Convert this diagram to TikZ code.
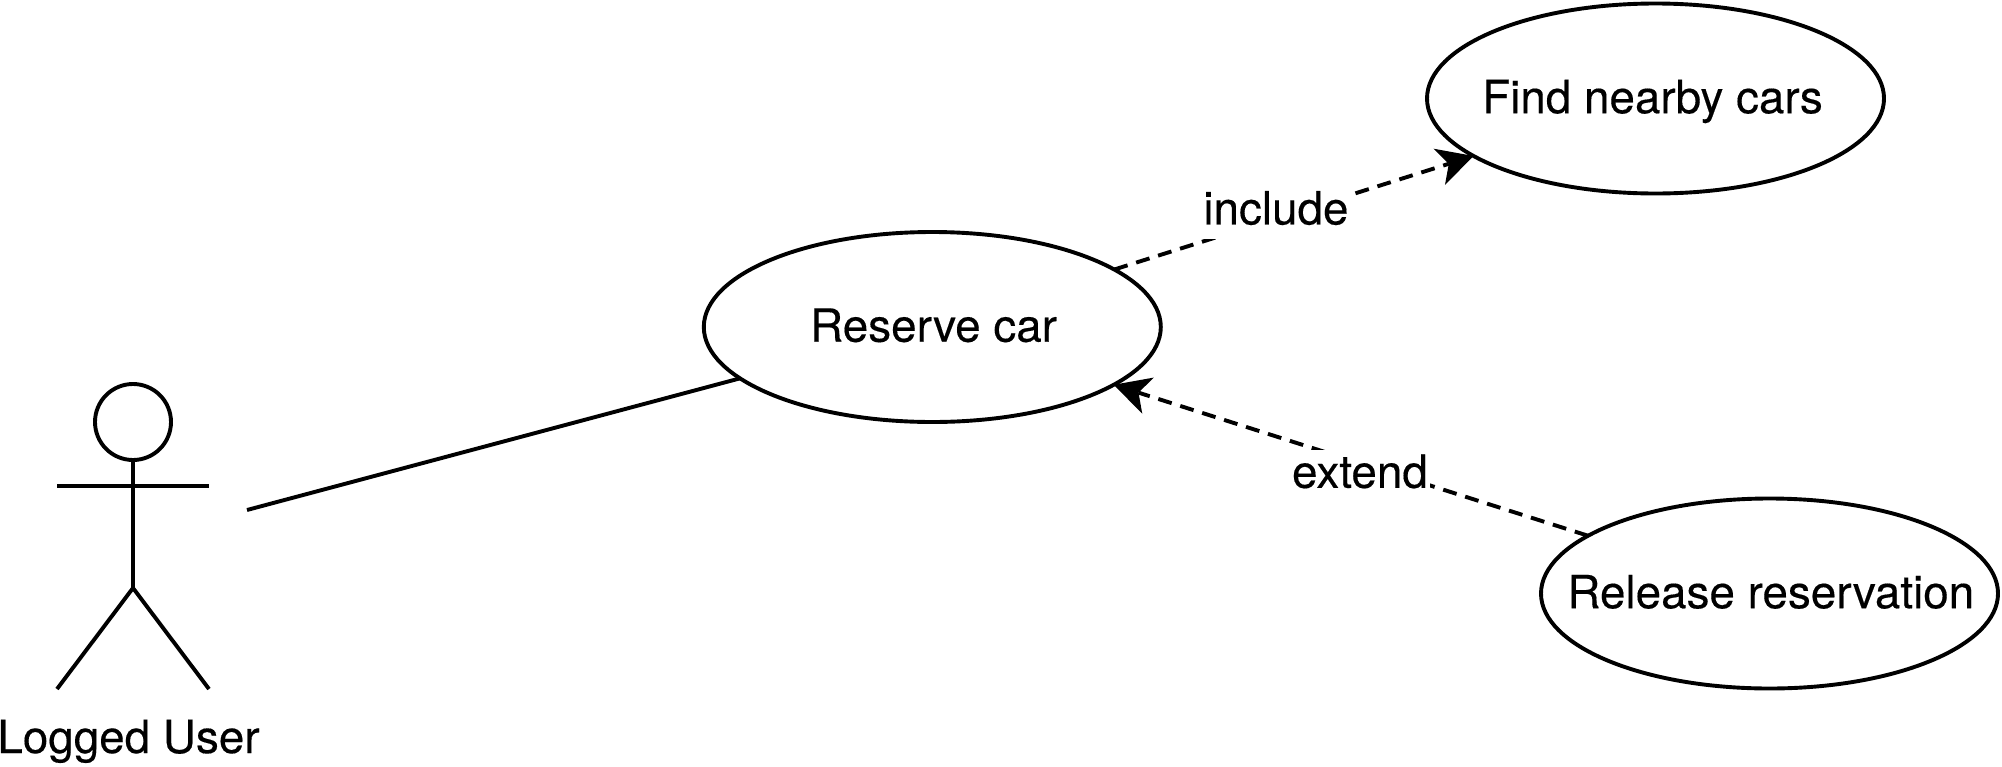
\documentclass[tikz,border=0pt]{standalone}
\usepackage{fontspec}
\setmainfont[FakeBold=0.3,AutoFakeBold=false]{TeX Gyre Heros}
\usetikzlibrary{shapes.geometric,arrows.meta}
\newcommand{\uctext}[2][0]{\makebox[0pt]{\kern#1pt\raisebox{-14.7pt}[0pt][0pt]{#2}}}
\tikzset{
  x=1pt,y=-1pt,
  usecase/.style={ellipse,draw=black,line width=3.9pt,fill=white,inner sep=0pt,outer sep=0pt,minimum width=457pt,minimum height=190pt},
  stick/.style={draw=black,line width=3.9pt},
  txt/.style={font=\fontsize{45.8}{52}\selectfont,text=black},
  flow/.style={draw=black,line width=3.9pt,dash pattern=on 14pt off 9pt,-{Stealth[length=36pt,width=38pt,inset=10pt,line width=0pt]}},
  edgelabel/.style={txt,fill=white,inner xsep=2pt,inner ysep=0pt,text height=38pt,text depth=15pt,anchor=base}
}
\begin{document}
\begin{tikzpicture}
\useasboundingbox (0,0) rectangle (2002,766);
\node[usecase,txt] (reserve) at (932.3,327) {\uctext[2.5]{Reserve car}};
\node[usecase,txt] (find) at (1655.5,98.5) {\uctext[-6]{Find nearby cars}};
\node[usecase,txt] (release) at (1769.5,593.5) {\uctext[2.5]{Release reservation}};
\node[circle,stick,fill=white,inner sep=0pt,outer sep=0pt,minimum size=76pt] (head) at (133,422) {};
\coordinate (armL) at (57,486);
\coordinate (armR) at (209,486);
\coordinate (hip) at (133,588);
\coordinate (footL) at (57,689);
\coordinate (footR) at (209,689);
\coordinate (actorEnd) at (247,510);
\draw[stick] (head) -- (hip);
\draw[stick] (armL) -- (armR);
\draw[stick] (footL) -- (hip) -- (footR);
\node[txt,anchor=base] (actorName) at (128.5,753) {Logged User};
\draw[stick] (actorEnd) -- (reserve);
\draw[flow] (reserve) -- node[edgelabel,pos=0.45,yshift=-6pt] (inc) {include} (find);
\draw[flow] (release) -- node[edgelabel,pos=0.481,yshift=-24.7pt] (ext) {extend} (reserve);
\end{tikzpicture}
\end{document}
